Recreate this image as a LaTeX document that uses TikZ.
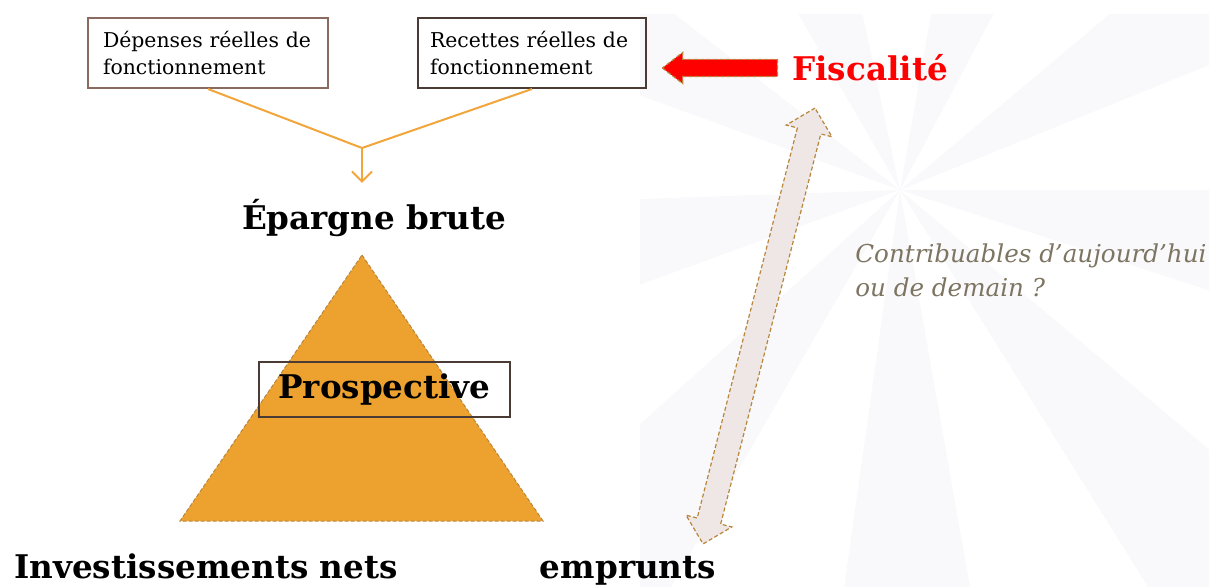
\documentclass[tikz,border=0pt]{standalone}
\usepackage{fontspec}
\setmainfont{DejaVu Serif}
\usetikzlibrary{arrows.meta}
\usetikzlibrary{positioning}
\usetikzlibrary{shapes.arrows}
\definecolor{orangeline}{HTML}{F2A53A}
\definecolor{pyramid}{HTML}{EDA230}
\definecolor{dashbrown}{HTML}{B8863B}
\definecolor{boxbrown}{HTML}{8B6A5F}
\definecolor{boxdark}{HTML}{4A3B35}
\definecolor{questgrey}{HTML}{7D7562}
\definecolor{arrowfill}{HTML}{EFE7E5}
\definecolor{ray}{HTML}{F9F9FB}
\tikzset{fonctbox/.style = {draw, line width=1pt, align=left, inner sep=0,
                            minimum height=35pt, font=\fontsize{10.2}{13.5}\selectfont}}
\tikzset{bigbold/.style = {font=\bfseries\fontsize{16.3}{18}\selectfont, inner sep=0}}
\tikzset{flow/.style = {draw=orangeline, line width=1pt}}
\tikzset{blockarrow/.style = {draw=dashbrown, dash pattern=on 2pt off 1.2pt, line width=0.6pt, inner xsep=0}}

\begin{document}
\begin{tikzpicture}[x=0.5pt, y=-0.5pt]
    \useasboundingbox (0, 0) rectangle (1209, 587);
    % faint rays of the slide background
    \coordinate (sun) at (900, 190);
    \begin{scope}
      \clip (640, 15) rectangle (1209, 587);
      \foreach \a in {0, 40, 80, 120, 160, 200, 240, 280, 320}
        \fill [ray] (sun) -- +(\a:1400) -- +(\a+18:1400) -- cycle;
    \end{scope}

    \node [fonctbox, draw=boxbrown, text width=105pt, minimum width=120pt] (depenses) at (208, 53) {Dépenses réelles de\\fonctionnement};
    \node [fonctbox, draw=boxdark, text width=102pt, minimum width=114pt] (recettes) at (532, 53) {Recettes réelles de\\fonctionnement};
    \coordinate (merge) at (362, 148);
    \node [bigbold] (epargne) at (374, 218) {Épargne brute};
    \draw [flow] (depenses.south) -- (merge);
    \draw [flow] (recettes.south) -- (merge);
    \draw [flow, -{Straight Barb[length=5pt, width=10pt]}] (merge) -- ([yshift=8pt]merge |- epargne.north);

    \coordinate (apex) at (362, 255);
    \coordinate (baseL) at (180, 521);
    \coordinate (baseR) at (543, 521);
    \filldraw [fill=pyramid, draw=dashbrown, dash pattern=on 2pt off 1pt, line width=0.5pt] (apex) -- (baseR) -- (baseL) -- cycle;
    \node [bigbold, draw=boxdark, line width=0.7pt, minimum width=125.5pt, minimum height=27.5pt] (prospective) at (384.5, 389.5) {Prospective};

    \node [bigbold, anchor=base] (invest) at (206, 578) {Investissements nets};
    \node [bigbold, anchor=base] (emprunts) at (628, 578) {emprunts};

    \node [blockarrow, single arrow, fill=red, shape border rotate=180, minimum height=57.5pt, inner ysep=4pt,
           single arrow head extend=3.5pt, single arrow tip angle=75] (fleche) at (725.5, 68) {};
    \node [bigbold, text=red, right=7pt of fleche] (fiscalite) {Fiscalité};

    \node [blockarrow, double arrow, fill=arrowfill, rotate=75.6, minimum height=225pt, inner ysep=5.75pt,
           double arrow head extend=5.75pt, double arrow tip angle=90] (lien) at (759, 326) {};

    \node [font=\itshape\fontsize{12.3}{17}\selectfont, text=questgrey, align=left, anchor=north west, inner sep=0] (question) at (855, 243) {Contribuables d’aujourd’hui\\ou de demain ?};
  \end{tikzpicture}
\end{document}
